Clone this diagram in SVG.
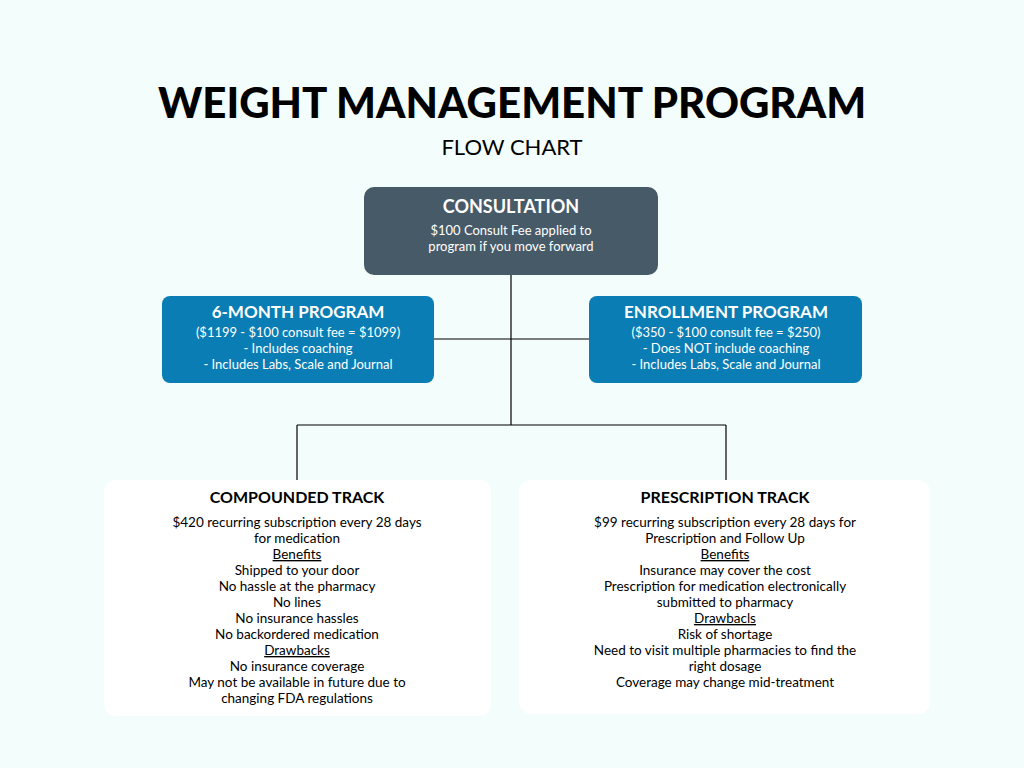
<svg xmlns="http://www.w3.org/2000/svg" width="1024" height="768" viewBox="0 0 1024 768">
<style>
text{font-family:Lato,"Noto Sans","DejaVu Sans",sans-serif;text-anchor:middle}
.h{font-weight:bold;font-size:17px;fill:#fff}
.w{font-size:13px;fill:#fff}
.bh{font-weight:bold;font-size:16px;fill:#000}
.b{font-size:13.5px;fill:#000}
.u{text-decoration:underline}
.blue{fill:#0a7db4}
line{stroke:#000;stroke-width:1.2}
</style>
<rect width="1024" height="768" fill="#f3fdfb"/>
<text x="512" y="118" style="font-weight:900;font-size:42px;fill:#000">WEIGHT MANAGEMENT PROGRAM</text>
<text x="512" y="155" style="font-size:22px;fill:#000">FLOW CHART</text>
<g id="connectors">
<line x1="511" y1="275" x2="511" y2="425"/>
<line x1="434" y1="339" x2="589" y2="339"/>
<line x1="297" y1="425" x2="726" y2="425"/>
<line x1="297" y1="425" x2="297" y2="481"/>
<line x1="726" y1="425" x2="726" y2="481"/>
</g>
<g id="consultation">
<rect x="364" y="187" width="294" height="88" rx="10" fill="#475a68"/>
<text x="511" y="213" class="h" style="font-size:18px">CONSULTATION</text>
<text x="511" y="235" class="w">$100 Consult Fee applied to</text>
<text x="511" y="251" class="w">program if you move forward</text>
</g>
<g id="six-month">
<rect x="162" y="296" width="272" height="87" rx="8" class="blue"/>
<text x="298" y="318" class="h">6-MONTH PROGRAM</text>
<text x="298" y="337" class="w">($1199 - $100 consult fee = $1099)</text>
<text x="298" y="353" class="w">- Includes coaching</text>
<text x="298" y="369" class="w">- Includes Labs, Scale and Journal</text>
</g>
<g id="enrollment">
<rect x="589" y="296" width="273" height="87" rx="8" class="blue"/>
<text x="726" y="318" class="h">ENROLLMENT PROGRAM</text>
<text x="726" y="337" class="w">($350 - $100 consult fee = $250)</text>
<text x="726" y="353" class="w">- Does NOT include coaching</text>
<text x="726" y="369" class="w">- Includes Labs, Scale and Journal</text>
</g>
<g id="compounded">
<rect x="104" y="480" width="387" height="236" rx="12" fill="#fff"/>
<text x="297" y="503" class="bh">COMPOUNDED TRACK</text>
<text x="297" y="527" class="b">$420 recurring subscription every 28 days</text>
<text x="297" y="543" class="b">for medication</text>
<text x="297" y="559" class="b u">Benefits</text>
<text x="297" y="575" class="b">Shipped to your door</text>
<text x="297" y="591" class="b">No hassle at the pharmacy</text>
<text x="297" y="607" class="b">No lines</text>
<text x="297" y="623" class="b">No insurance hassles</text>
<text x="297" y="639" class="b">No backordered medication</text>
<text x="297" y="655" class="b u">Drawbacks</text>
<text x="297" y="671" class="b">No insurance coverage</text>
<text x="297" y="687" class="b">May not be available in future due to</text>
<text x="297" y="703" class="b">changing FDA regulations</text>
</g>
<g id="prescription">
<rect x="519" y="480" width="411" height="234" rx="12" fill="#fff"/>
<text x="725" y="503" class="bh">PRESCRIPTION TRACK</text>
<text x="725" y="527" class="b">$99 recurring subscription every 28 days for</text>
<text x="725" y="543" class="b">Prescription and Follow Up</text>
<text x="725" y="559" class="b u">Benefits</text>
<text x="725" y="575" class="b">Insurance may cover the cost</text>
<text x="725" y="591" class="b">Prescription for medication electronically</text>
<text x="725" y="607" class="b">submitted to pharmacy</text>
<text x="725" y="623" class="b u">Drawbacls</text>
<text x="725" y="639" class="b">Risk of shortage</text>
<text x="725" y="655" class="b">Need to visit multiple pharmacies to find the</text>
<text x="725" y="671" class="b">right dosage</text>
<text x="725" y="687" class="b">Coverage may change mid-treatment</text>
</g>
</svg>
